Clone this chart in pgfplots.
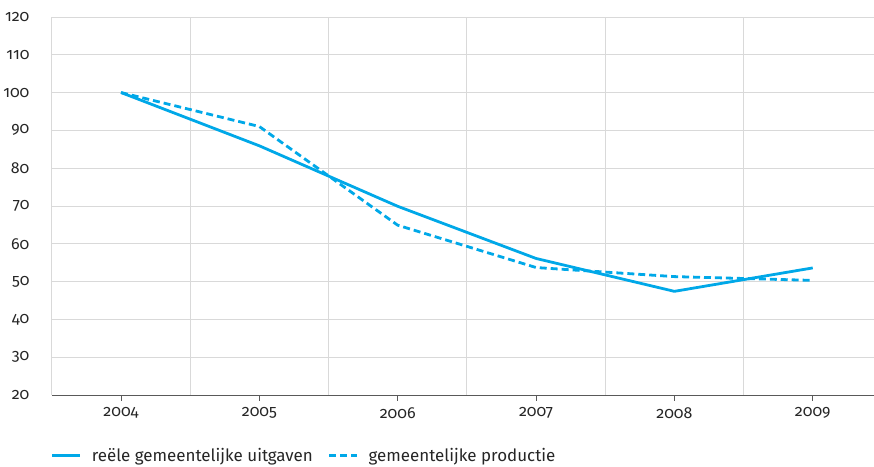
\documentclass[border=0pt]{standalone}
\usepackage{fontspec}
\setmainfont[Numbers=OldStyle]{Fira Sans}
\usepackage{pgfplots}
\pgfplotsset{compat=1.18}
\definecolor{lijn}{RGB}{0,168,232}
\begin{document}
\begin{tikzpicture}
\begin{axis}[
  name=ax,
  scale only axis,
  width=824pt, height=379pt,
  xmin=2003.5, xmax=2009.44,
  ymin=20, ymax=120,
  axis lines=left,
  axis line style={-},
  x axis line style={draw=black!65, line width=0.8pt},
  y axis line style={draw=black!15, line width=0.8pt},
  xtick={2004,2005,2006,2007,2008,2009},
  xticklabels={2004,2005,2006,2007,2008,2009},
  ytick={20,30,...,120},
  major tick length=6pt,
  extra x ticks={2004.5,2005.5,2006.5,2007.5,2008.5},
  extra x tick labels={},
  extra x tick style={grid=major, major tick length=0pt, major grid style={draw=black!15, line width=0.8pt}},
  ymajorgrids,
  major grid style={draw=black!15, line width=0.8pt},
  tick align=outside,
  xtick style={draw=black!65, line width=0.8pt},
  ytick style={draw=none},
  /pgf/number format/assume math mode=true,
  /pgf/number format/1000 sep={},
  tick label style={font=\fontsize{16}{18}\selectfont, text=black!85},
  xticklabel style={yshift=-3pt},
  yticklabel style={xshift=-13pt},
  legend style={at={(axis description cs:0,0)}, anchor=north west, xshift=-4pt, yshift=-49pt,
    draw=none, fill=none, font=\fontsize{17}{19}\selectfont, text=black!85,
    legend columns=2,
    /tikz/every odd column/.append style={column sep=8pt},
    /tikz/every even column/.append style={column sep=13pt}},
  legend image code/.code={\draw[#1] (0pt,0pt) -- (28pt,0pt);},
  line join=round,
]
\addplot[lijn, line width=2.8pt] coordinates {
 (2004,100) (2005,85.9) (2006,69.9) (2007,56.1) (2008,47.4) (2009,53.6)};
\addlegendentry{reële gemeentelijke uitgaven}
\addplot[lijn, line width=2.8pt, dash pattern=on 7pt off 4pt] coordinates {
 (2004,100) (2005,91) (2006,64.9) (2007,53.7) (2008,51.3) (2009,50.3)};
\addlegendentry{gemeentelijke productie}
\end{axis}
\path[use as bounding box] ([xshift=-50pt,yshift=-68pt]ax.south west) rectangle ([yshift=17pt]ax.north east);
\end{tikzpicture}
\end{document}
